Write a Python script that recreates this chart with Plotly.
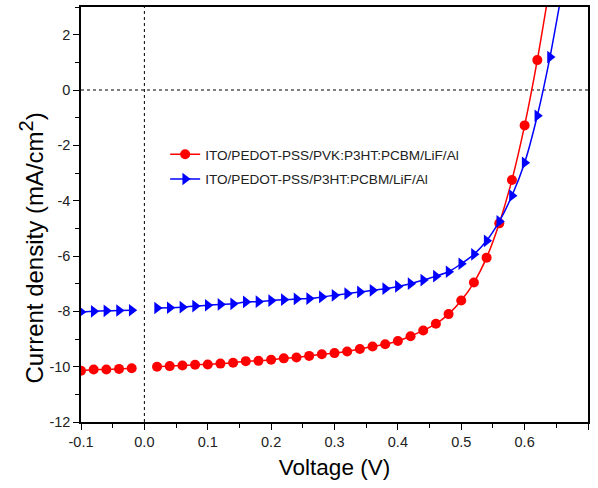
import plotly.graph_objects as go

# Voltage (V); None marks the break in the sweep at 0 V
v_red = [-0.1, -0.08, -0.06, -0.04, -0.02, None, 0.02, 0.04, 0.06, 0.08, 0.10, 0.12, 0.14, 0.16, 0.18,
         0.20, 0.22, 0.24, 0.26, 0.28, 0.30, 0.32, 0.34, 0.36, 0.38, 0.40, 0.42, 0.44, 0.46,
         0.48, 0.50, 0.52, 0.54, 0.56, 0.58, 0.60, 0.62, 0.64]
j_red = [-10.15, -10.10, -10.10, -10.08, -10.06, None, -10.00, -9.98, -9.96, -9.93, -9.92, -9.89, -9.86,
         -9.80, -9.79, -9.75, -9.70, -9.67, -9.61, -9.55, -9.51, -9.45, -9.36, -9.27, -9.19,
         -9.07, -8.90, -8.69, -8.45, -8.10, -7.61, -6.96, -6.06, -4.82, -3.25, -1.28, 1.08, 3.8]

v_blue = [-0.1, -0.08, -0.06, -0.04, -0.02, None, 0.02, 0.04, 0.06, 0.08, 0.10, 0.12, 0.14, 0.16, 0.18,
          0.20, 0.22, 0.24, 0.26, 0.28, 0.30, 0.32, 0.34, 0.36, 0.38, 0.40, 0.42, 0.44, 0.46,
          0.48, 0.50, 0.52, 0.54, 0.56, 0.58, 0.60, 0.62, 0.64, 0.66]
j_blue = [-8.02, -8.00, -7.98, -7.97, -7.96, None, -7.88, -7.87, -7.85, -7.81, -7.78, -7.75, -7.73,
          -7.66, -7.65, -7.61, -7.58, -7.55, -7.54, -7.48, -7.42, -7.36, -7.30, -7.24, -7.18,
          -7.10, -7.00, -6.87, -6.73, -6.57, -6.28, -5.94, -5.45, -4.75, -3.82, -2.63, -0.93, 1.19, 3.7]

name_red = "ITO/PEDOT-PSS/PVK:P3HT:PCBM/LiF/Al"
name_blue = "ITO/PEDOT-PSS/P3HT:PCBM/LiF/Al"

x_ticks = [-0.1, 0.0, 0.1, 0.2, 0.3, 0.4, 0.5, 0.6, 0.7]
x_ticktext = ["-0.1", "0.0", "0.1", "0.2", "0.3", "0.4", "0.5", "0.6", "0.7"]
y_ticks = [-12, -10, -8, -6, -4, -2, 0, 2]
y_ticktext = ["-12", "-10", "-8", "-6", "-4", "-2", "0", "2"]

x_title = "Voltage (V)"
y_title = "Current density (mA/cm<sup><span style=\"font-size:20px\">2</span></sup>)"

font = "Liberation Sans, Arial, sans-serif"

fig = go.Figure()
fig.add_trace(go.Scatter(x=v_red, y=j_red, mode="lines+markers", name=name_red, legendgroup="a",
                         connectgaps=False,
                         line=dict(color="#ff0000", width=1.5, shape="spline", smoothing=0.6),
                         marker=dict(symbol="circle", size=10, color="#ff0000")))
fig.add_trace(go.Scatter(x=v_blue, y=j_blue, mode="lines+markers", name=name_blue, legendgroup="b",
                         connectgaps=False,
                         line=dict(color="#0000ff", width=1.5, shape="spline", smoothing=0.6),
                         marker=dict(symbol="triangle-right", size=11, color="#0000ff")))

fig.add_shape(type="line", xref="x", yref="paper", x0=0, x1=0, y0=0, y1=1,
              line=dict(color="black", width=1, dash="dot"), layer="below")
fig.add_shape(type="line", xref="paper", yref="y", x0=0, x1=1, y0=0, y1=0,
              line=dict(color="black", width=1, dash="dot"), layer="below")

fig.add_annotation(text=y_title, xref="paper", yref="paper", x=-0.097, y=0.42,
                   xanchor="center", yanchor="middle", textangle=-90, showarrow=False,
                   font=dict(size=24, color="black", family=font))

fig.update_layout(
    width=598, height=488,
    margin=dict(l=81, r=10, t=7, b=66, autoexpand=False),
    paper_bgcolor="white", plot_bgcolor="white",
    font=dict(family=font, color="black"),
    showlegend=True,
    legend=dict(x=0.166, y=0.682, xanchor="left", yanchor="top",
                bgcolor="rgba(0,0,0,0)", font=dict(size=13.6, color="#222"),
                traceorder="grouped", tracegroupgap=4),
)
fig.update_xaxes(range=[-0.1, 0.7], tickvals=x_ticks, ticktext=x_ticktext, automargin=False,
                 showline=True, linecolor="black", linewidth=1.5, mirror=True,
                 ticks="outside", ticklen=6, tickwidth=1.2, tickcolor="black",
                 minor=dict(dtick=0.05, ticks="outside", ticklen=4, tickcolor="black", tickwidth=1),
                 showgrid=False, zeroline=False,
                 tickfont=dict(size=14.5, color="#222"),
                 title=dict(text=x_title, font=dict(size=22.5), standoff=10))
fig.update_yaxes(range=[-12, 3], tickvals=y_ticks, ticktext=y_ticktext, automargin=False,
                 showline=True, linecolor="black", linewidth=1.5, mirror=True,
                 ticks="outside", ticklen=6, tickwidth=1.2, tickcolor="black",
                 minor=dict(dtick=1, ticks="outside", ticklen=4, tickcolor="black", tickwidth=1),
                 showgrid=False, zeroline=False,
                 tickfont=dict(size=14.5, color="#222"))

fig.write_html("out.html", config={"displayModeBar": False},
               post_script="document.body.style.margin='0';")
